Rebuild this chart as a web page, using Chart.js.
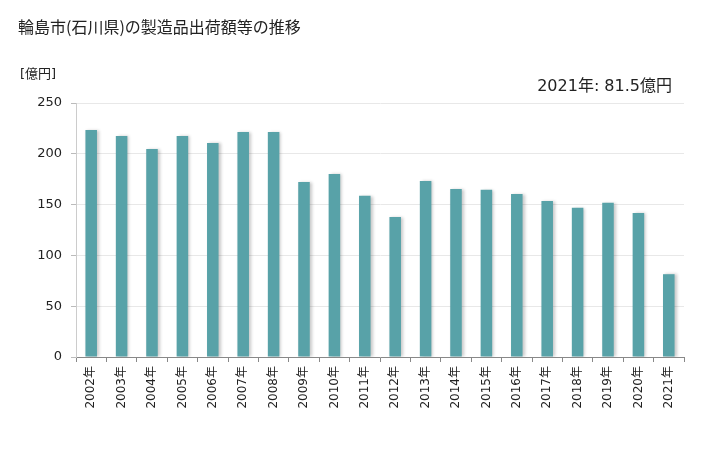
<!DOCTYPE html>
<html>
<head>
<meta charset="utf-8">
<script src="https://cdn.jsdelivr.net/npm/chart.js@4"></script>
<style>
  body { margin: 0; background: #fff; }
  #wrap { width: 728px; height: 450px; }
</style>
</head>
<body>
<div id="wrap"><canvas id="chart"></canvas></div>
<script>
const years = ["2002年","2003年","2004年","2005年","2006年","2007年","2008年","2009年","2010年","2011年",
               "2012年","2013年","2014年","2015年","2016年","2017年","2018年","2019年","2020年","2021年"];
const shipments = [223.5, 217.5, 204.8, 217.5, 210.6, 221.5, 221.5, 172.3, 180.1, 158.6,
                   137.8, 173.2, 165.4, 164.5, 160.5, 153.6, 146.8, 151.7, 141.7, 81.5];
const yTicks = [0, 50, 100, 150, 200, 250];

const FONT = "'Noto Sans CJK JP', 'Noto Sans', sans-serif";
const NUMFONT = "'DejaVu Sans', 'Noto Sans CJK JP', sans-serif";

// title, unit and the latest-value note
const textPlugin = {
  id: 'texts',
  afterDraw(chart) {
    const ctx = chart.ctx;
    ctx.save();
    ctx.fillStyle = '#222';
    ctx.textBaseline = 'middle';
    ctx.font = '16px ' + FONT;
    ctx.textAlign = 'left';
    ctx.fillText('輪島市(石川県)の製造品出荷額等の推移', 18, 27);
    ctx.font = '13px ' + NUMFONT;
    ctx.fillText('[億円]', 20, 75);
    ctx.font = '16px ' + NUMFONT;
    ctx.textAlign = 'right';
    const last = years.length - 1;
    ctx.fillText(years[last] + ': ' + shipments[last] + '億円', 672, 87);
    ctx.restore();
  }
};

// soft shadow behind bars
const shadowPlugin = {
  id: 'barShadow',
  beforeDatasetDraw(chart) {
    const ctx = chart.ctx;
    ctx.save();
    ctx.shadowColor = 'rgba(0,0,0,0.22)';
    ctx.shadowBlur = 3;
    ctx.shadowOffsetX = 2;
    ctx.shadowOffsetY = 0;
  },
  afterDatasetDraw(chart) {
    chart.ctx.restore();
  }
};

new Chart(document.getElementById('chart'), {
  type: 'bar',
  data: {
    labels: years,
    datasets: [{
      data: shipments,
      backgroundColor: '#58a2a8',
      borderWidth: 0,
      categoryPercentage: 1,
      barPercentage: 0.38
    }]
  },
  options: {
    responsive: true,
    maintainAspectRatio: false,
    animation: false,
    layout: { padding: { top: 103, right: 44, left: 0, bottom: 0 } },
    plugins: { legend: { display: false }, tooltip: { enabled: false }, title: { display: false } },
    scales: {
      x: {
        grid: { offset: true, drawOnChartArea: false, color: '#888', tickLength: 5 },
        border: { color: '#888' },
        ticks: { color: '#222', font: { family: NUMFONT, size: 12 }, maxRotation: 90, minRotation: 90, padding: 4 },
        afterFit(scale) { scale.height = 93; }
      },
      y: {
        min: 0, max: 250,
        afterBuildTicks(scale) { scale.ticks = yTicks.map(v => ({ value: v })); },
        grid: { color: '#e8e8e8', tickLength: 5, tickColor: '#bbb' },
        border: { color: '#ccc' },
        ticks: { color: '#222', font: { family: NUMFONT, size: 13 }, padding: 9 },
        afterFit(scale) { scale.width = 76; }
      }
    }
  },
  plugins: [shadowPlugin, textPlugin]
});
</script>
</body>
</html>
